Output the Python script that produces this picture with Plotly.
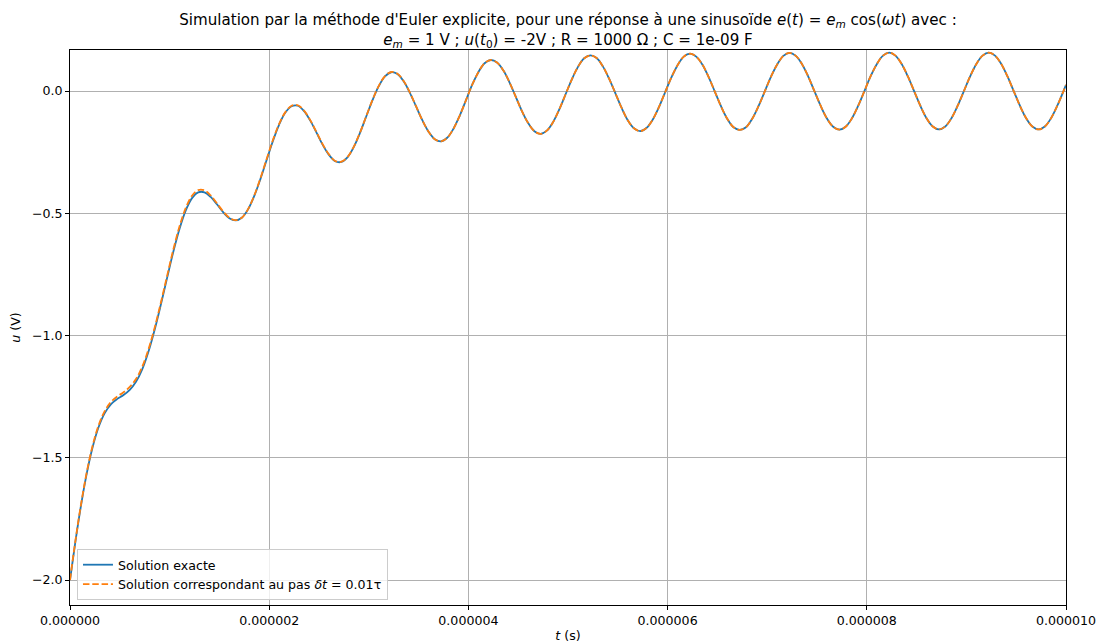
import plotly.graph_objects as go

# time axis, in microseconds
t_us = [0.0, 0.05, 0.1, 0.1625, 0.225, 0.2875, 0.35, 0.4125, 0.475, 0.5375, 0.6, 0.6625,
        0.725, 0.7875, 0.85, 0.9125, 0.975, 1.0375, 1.1, 1.1625, 1.225, 1.2875, 1.35, 1.4125,
        1.475, 1.5375, 1.6, 1.6625, 1.725, 1.7875, 1.85, 1.9125, 1.975, 2.0375, 2.1, 2.1625,
        2.225, 2.2875, 2.35, 2.4125, 2.475, 2.5375, 2.6, 2.6625, 2.725, 2.7875, 2.85, 2.9125,
        2.975, 3.0375, 3.1, 3.1625, 3.225, 3.2875, 3.35, 3.4125, 3.475, 3.5375, 3.6, 3.6625,
        3.725, 3.7875, 3.85, 3.9125, 3.975, 4.0375, 4.1, 4.1625, 4.225, 4.2875, 4.35, 4.4125,
        4.475, 4.5375, 4.6, 4.6625, 4.725, 4.7875, 4.85, 4.9125, 4.975, 5.0375, 5.1, 5.1625,
        5.225, 5.2875, 5.35, 5.4125, 5.475, 5.5375, 5.6, 5.6625, 5.725, 5.7875, 5.85, 5.9125,
        5.975, 6.0375, 6.1, 6.1625, 6.225, 6.2875, 6.35, 6.4125, 6.475, 6.5375, 6.6, 6.6625,
        6.725, 6.7875, 6.85, 6.9125, 6.975, 7.0375, 7.1, 7.1625, 7.225, 7.2875, 7.35, 7.4125,
        7.475, 7.5375, 7.6, 7.6625, 7.725, 7.7875, 7.85, 7.9125, 7.975, 8.0375, 8.1, 8.1625,
        8.225, 8.2875, 8.35, 8.4125, 8.475, 8.5375, 8.6, 8.6625, 8.725, 8.7875, 8.85, 8.9125,
        8.975, 9.0375, 9.1, 9.1625, 9.225, 9.2875, 9.35, 9.4125, 9.475, 9.5375, 9.6, 9.6625,
        9.725, 9.7875, 9.85, 9.9125, 9.975, 10.0]

u_exact = [-2.000, -1.855, -1.721, -1.576, -1.460, -1.374, -1.316, -1.280, -1.259, -1.243,
           -1.222, -1.189, -1.138, -1.066, -0.976, -0.873, -0.764, -0.657, -0.563, -0.488,
           -0.438, -0.414, -0.414, -0.433, -0.463, -0.495, -0.520, -0.529, -0.518, -0.484,
           -0.429, -0.359, -0.281, -0.204, -0.137, -0.088, -0.062, -0.060, -0.082, -0.121,
           -0.170, -0.220, -0.261, -0.287, -0.290, -0.270, -0.228, -0.170, -0.103, -0.037,
           0.020, 0.060, 0.077, 0.070, 0.040, -0.007, -0.063, -0.119, -0.166, -0.197,
           -0.206, -0.191, -0.154, -0.101, -0.038, 0.025, 0.077, 0.114, 0.127, 0.117,
           0.085, 0.036, -0.023, -0.082, -0.131, -0.164, -0.175, -0.162, -0.127, -0.075,
           -0.014, 0.047, 0.099, 0.134, 0.146, 0.135, 0.101, 0.051, -0.008, -0.068,
           -0.119, -0.152, -0.164, -0.151, -0.117, -0.066, -0.005, 0.055, 0.106, 0.141,
           0.153, 0.141, 0.108, 0.057, -0.003, -0.063, -0.114, -0.148, -0.159, -0.148,
           -0.113, -0.062, -0.002, 0.058, 0.109, 0.144, 0.156, 0.144, 0.110, 0.059,
           -0.001, -0.061, -0.112, -0.146, -0.158, -0.146, -0.112, -0.061, -0.001, 0.060,
           0.110, 0.145, 0.157, 0.145, 0.111, 0.060, 0.000, -0.060, -0.111, -0.145,
           -0.157, -0.145, -0.111, -0.060, 0.000, 0.060, 0.111, 0.145, 0.157, 0.145,
           0.111, 0.060, 0.000, -0.060, -0.111, -0.145, -0.157, -0.145, -0.111, -0.060,
           0.000, 0.025]

u_euler = [-2.000, -1.852, -1.717, -1.571, -1.454, -1.367, -1.308, -1.271, -1.249, -1.232,
           -1.210, -1.178, -1.128, -1.057, -0.968, -0.865, -0.756, -0.648, -0.553, -0.478,
           -0.428, -0.405, -0.406, -0.427, -0.459, -0.492, -0.518, -0.528, -0.518, -0.483,
           -0.427, -0.356, -0.277, -0.200, -0.134, -0.086, -0.060, -0.058, -0.080, -0.119,
           -0.168, -0.218, -0.259, -0.286, -0.289, -0.269, -0.227, -0.169, -0.102, -0.036,
           0.021, 0.061, 0.078, 0.071, 0.041, -0.006, -0.063, -0.119, -0.166, -0.197,
           -0.206, -0.191, -0.154, -0.101, -0.038, 0.025, 0.077, 0.114, 0.127, 0.117,
           0.085, 0.036, -0.023, -0.082, -0.131, -0.164, -0.175, -0.162, -0.127, -0.075,
           -0.014, 0.047, 0.099, 0.134, 0.146, 0.135, 0.101, 0.051, -0.008, -0.068,
           -0.119, -0.152, -0.164, -0.151, -0.117, -0.066, -0.005, 0.055, 0.106, 0.141,
           0.153, 0.141, 0.108, 0.057, -0.003, -0.063, -0.114, -0.148, -0.159, -0.148,
           -0.113, -0.062, -0.002, 0.058, 0.109, 0.144, 0.156, 0.144, 0.110, 0.059,
           -0.001, -0.061, -0.112, -0.146, -0.158, -0.146, -0.112, -0.061, -0.001, 0.060,
           0.110, 0.145, 0.157, 0.145, 0.111, 0.060, 0.000, -0.060, -0.111, -0.145,
           -0.157, -0.145, -0.111, -0.060, 0.000, 0.060, 0.111, 0.145, 0.157, 0.145,
           0.111, 0.060, 0.000, -0.060, -0.111, -0.145, -0.157, -0.145, -0.111, -0.060,
           0.000, 0.025]

x_tickvals = [0.0, 2e-6, 4e-6, 6e-6, 8e-6, 1e-5]
x_ticktext = ["0.000000", "0.000002", "0.000004", "0.000006", "0.000008", "0.000010"]
y_tickvals = [-2.0, -1.5, -1.0, -0.5, 0.0]
y_ticktext = ["\u22122.0", "\u22121.5", "\u22121.0", "\u22120.5", "0.0"]

t_s = [v * 1e-6 for v in t_us]

FONT = "DejaVu Sans"
FS = 12.6

fig = go.Figure()
fig.add_trace(go.Scatter(
    x=t_s, y=u_exact, mode="lines", name="Solution exacte",
    line=dict(color="#1f77b4", width=1.8, shape="spline", smoothing=1.0),
))
fig.add_trace(go.Scatter(
    x=t_s, y=u_euler, mode="lines",
    name="Solution correspondant au pas <i>δt</i> = 0.01τ",
    line=dict(color="#ff7f0e", width=1.8, dash="6.5px,2.8px", shape="spline", smoothing=1.0),
))

title = ("Simulation par la méthode d'Euler explicite, pour une réponse à une sinusoïde "
         "<i>e</i>(<i>t</i>) = <i>e<sub>m</sub></i> cos(<i>ωt</i>) avec :<br>"
         "<i>e<sub>m</sub></i> = 1 V ; <i>u</i>(<i>t</i><sub>0</sub>) = -2V ; "
         "R = 1000 Ω ; C = 1e-09 F")

fig.update_layout(
    width=1100, height=643, autosize=False,
    margin=dict(l=70, r=34, t=50, b=38, autoexpand=False),
    paper_bgcolor="white", plot_bgcolor="white",
    font=dict(family=FONT, size=FS, color="black"),
    title=dict(text=title, x=0.5, xref="paper", y=1, yref="paper",
               yanchor="bottom", xanchor="center", pad=dict(b=25, t=0, l=0, r=0),
               font=dict(family=FONT, size=15.1)),
    showlegend=True,
    legend=dict(x=0.007, y=0.009, xanchor="left", yanchor="bottom",
                bgcolor="rgba(255,255,255,0.8)", bordercolor="#cccccc", borderwidth=1,
                font=dict(family=FONT, size=FS), tracegroupgap=0, itemwidth=30),
)

fig.update_xaxes(
    range=[0, 1e-5], tickvals=x_tickvals, ticktext=x_ticktext, automargin=False,
    showgrid=True, gridcolor="#b0b0b0", gridwidth=0.8,
    showline=True, linecolor="black", linewidth=1, mirror=True,
    ticks="outside", ticklen=4, tickcolor="black", zeroline=False,
    tickfont=dict(family=FONT, size=FS),
    title=dict(text="<i>t</i> (s)", standoff=6, font=dict(family=FONT, size=FS)),
)
fig.update_yaxes(
    range=[-2.102, 0.168], tickvals=y_tickvals, ticktext=y_ticktext, automargin=False,
    showgrid=True, gridcolor="#b0b0b0", gridwidth=0.8,
    showline=True, linecolor="black", linewidth=1, mirror=True,
    ticks="outside", ticklen=4, tickcolor="black", zeroline=False,
    tickfont=dict(family=FONT, size=FS),
    title=dict(text="<i>u</i> (V)", standoff=8, font=dict(family=FONT, size=FS)),
)

fig.write_html("out.html", config={"displayModeBar": False},
               post_script="document.body.style.margin='0px';document.body.style.overflow='hidden';")
